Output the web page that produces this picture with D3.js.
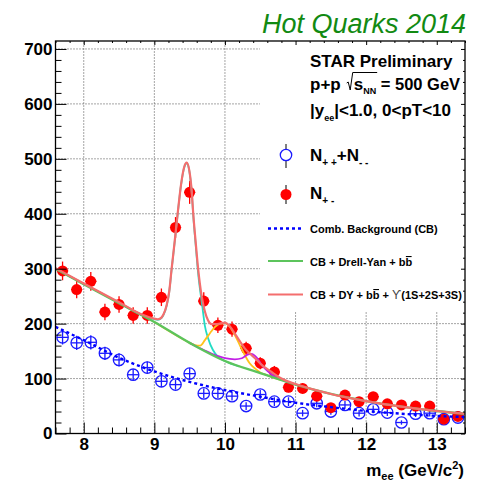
<!DOCTYPE html>
<html>
<head>
<meta charset="utf-8">
<script src="https://cdn.jsdelivr.net/npm/d3@7"></script>
<style>
  html, body { margin: 0; padding: 0; background: #fff; }
  svg { display: block; }
  text { font-family: "Liberation Sans", Arial, Helvetica, sans-serif; white-space: pre; }
</style>
</head>
<body>
<svg id="chart" width="479" height="482"></svg>
<script>
// ---- dielectron invariant-mass spectrum, bin centres in GeV/c^2 ----
const massBins = [7.7, 7.9, 8.1, 8.3, 8.5, 8.7, 8.9, 9.1, 9.3, 9.5, 9.7, 9.9, 10.1, 10.3, 10.5,
                  10.7, 10.9, 11.1, 11.3, 11.5, 11.7, 11.9, 12.1, 12.3, 12.5, 12.7, 12.9, 13.1, 13.3];
const binHalfWidth = 0.08;

// unlike-sign pairs N+-
const unlikeSign = [296, 262, 277, 221, 235, 215, 215, 248, 375, 439, 241, 197, 190, 155, 128,
                    112, 84, 82, 68, 47, 70, 58, 67, 54, 52, 50, 50, 26, 31];
const unlikeErr  = [17, 16, 17, 15, 15, 15, 15, 16, 19, 21, 16, 14, 14, 12, 11,
                    11, 9, 9, 8, 7, 8, 8, 8, 7, 7, 7, 7, 5, 6];

// like-sign pairs N++ + N--
const likeSign = [175, 165, 166, 146, 134, 107, 120, 95, 89, 109, 73, 73, 68, 50, 71,
                  58, 58, 37, 55, 40, 52, 37, 44, 38, 20, 36, 37, 26, 29];
const likeErr  = [13, 13, 13, 12, 12, 10, 11, 10, 9, 10, 9, 9, 8, 7, 8,
                  8, 8, 6, 7, 6, 7, 6, 7, 6, 4, 6, 6, 5, 5];

// combinatorial background fit
const cbMass = [7.6, 8.0, 8.5, 9.0, 9.5, 10.0, 10.5, 11.0, 11.5, 12.0, 12.5, 13.0, 13.4];
const cbFit  = [194, 170, 138, 113, 94, 79, 67, 56, 48, 41, 36, 32, 30];

// CB + Drell-Yan + bb
const dyMass = [7.6, 8.0, 8.5, 9.0, 9.5, 10.0, 10.5, 11.0, 11.5, 12.0, 12.5, 13.0, 13.4];
const dyFit  = [300, 272, 237, 203, 165, 132, 110, 89, 72, 59, 49, 41, 36];

// CB + DY + bb + Upsilon(1S)
const y1sMass = [7.6, 8.0, 8.5, 8.8, 9.0, 9.05, 9.1, 9.13, 9.175, 9.21, 9.245, 9.29, 9.33, 9.38,
                 9.425, 9.458, 9.495, 9.53, 9.551, 9.585, 9.62, 9.68, 9.716, 9.76, 9.83, 9.9, 10.0, 10.2];
const y1sFit  = [300, 272, 238, 217, 208, 207, 210, 216, 233, 257, 299, 351, 399, 454,
                 485, 492, 478, 438, 397, 344, 292, 231, 196, 174, 152, 140, 132, 122];

// CB + DY + bb + Upsilon(2S)
const y2sMass = [9.0, 9.4, 9.5, 9.575, 9.65, 9.716, 9.79, 9.86, 9.93, 10.0, 10.07, 10.14,
                 10.21, 10.28, 10.35, 10.43, 10.5, 10.6, 10.7, 10.8];
const y2sFit  = [203, 172, 165, 161, 160, 170, 183, 194, 200, 201, 194, 179,
                 161, 143, 128, 118, 111, 106, 101, 97];

// CB + DY + bb + Upsilon(3S)
const y3sMass = [9.5, 9.6, 9.7, 9.8, 9.9, 10.0, 10.14, 10.24, 10.33, 10.375, 10.45, 10.52,
                 10.6, 10.7, 10.8, 10.9];
const y3sFit  = [165, 158, 152, 146, 141, 137, 135, 137, 144, 145, 138, 125,
                 114, 104, 98, 93];

// CB + DY + bb + Upsilon(1S+2S+3S)
const totMass = [7.6, 8.0, 8.5, 8.8, 9.0, 9.05, 9.1, 9.13, 9.175, 9.21, 9.245, 9.29, 9.33, 9.38,
                 9.425, 9.458, 9.495, 9.53, 9.551, 9.585, 9.62, 9.67, 9.716, 9.76, 9.81, 9.86,
                 9.93, 10.0, 10.07, 10.14, 10.21, 10.28, 10.375, 10.45, 10.52, 10.66, 10.8,
                 11.0, 11.5, 12.0, 12.5, 13.0, 13.4];
const totFit  = [301, 273, 239, 218, 209, 208, 211, 217, 234, 258, 300, 352, 400, 455,
                 486, 493, 479, 440, 400, 349, 300, 250, 222, 206, 199, 199,
                 200, 202, 195, 182, 168, 155, 143, 134, 125, 112, 100,
                 90, 72, 59, 49, 41, 36];

// axis ticks
const xMajor = [8, 9, 10, 11, 12, 13];
const yMajor = [0, 100, 200, 300, 400, 500, 600, 700];

// ---- layout ----
const svg = d3.select("#chart");
const frame = { left: 55.5, right: 465, top: 41, bottom: 433.5 };

const x = d3.scaleLinear().domain([7.6, 13.4]).range([frame.left, frame.right]);
const y = d3.scaleLinear().domain([0, 714.5]).range([frame.bottom, frame.top]);

const xMinor = d3.range(7.6, 13.401, 0.2).map(v => +v.toFixed(1)).filter(v => !Number.isInteger(v));
const yMinor = d3.range(0, 714, 20).filter(v => v % 100 !== 0);

// title
svg.append("text")
  .attr("x", 262).attr("y", 33)
  .attr("font-size", 27).attr("font-style", "italic")
  .attr("fill", "#128a12")
  .text("Hot Quarks 2014");

// grid
const grid = svg.append("g").attr("stroke", "#000").attr("stroke-width", 1)
  .attr("stroke-dasharray", "1,2").attr("opacity", 0.7);
grid.selectAll("line.v").data(xMajor).join("line")
  .attr("x1", d => x(d)).attr("x2", d => x(d))
  .attr("y1", frame.bottom).attr("y2", frame.top);
grid.selectAll("line.h").data(yMajor.filter(v => v > 0)).join("line")
  .attr("x1", frame.left).attr("x2", frame.right)
  .attr("y1", d => y(d)).attr("y2", d => y(d));

// legend panel (opaque)
svg.append("rect").attr("x", 260).attr("y", frame.top + 1)
  .attr("width", frame.right - 260).attr("height", 311 - frame.top - 1)
  .attr("fill", "#fff");

// ---- data points ----
const pts = svg.append("g");
function drawPoints(vals, errs, color, filled) {
  const g = pts.append("g");
  const rows = massBins.map((m, i) => ({ m, v: vals[i], e: errs[i] }));
  g.selectAll("line.ey").data(rows).join("line")
    .attr("x1", d => x(d.m)).attr("x2", d => x(d.m))
    .attr("y1", d => y(d.v - d.e)).attr("y2", d => y(d.v + d.e))
    .attr("stroke", color).attr("stroke-width", 1.3);
  g.selectAll("line.ex").data(rows).join("line")
    .attr("x1", d => x(d.m - binHalfWidth)).attr("x2", d => x(d.m + binHalfWidth))
    .attr("y1", d => y(d.v)).attr("y2", d => y(d.v))
    .attr("stroke", color).attr("stroke-width", 1.3);
  g.selectAll("circle").data(rows).join("circle")
    .attr("cx", d => x(d.m)).attr("cy", d => y(d.v))
    .attr("r", filled ? 5.5 : 5.7)
    .attr("fill", filled ? color : "#fff").attr("fill-opacity", filled ? 1 : 0)
    .attr("stroke", color).attr("stroke-width", filled ? 0 : 1.3);
}
drawPoints(likeSign, likeErr, "#1a1aff", false);
drawPoints(unlikeSign, unlikeErr, "#ff0000", true);

// ---- fit curves ----
const line = d3.line().x(d => x(d[0])).y(d => y(d[1])).curve(d3.curveMonotoneX);
const curves = svg.append("g").attr("fill", "none").attr("stroke-linejoin", "round");
function drawCurve(ms, vs, color, width, dash) {
  curves.append("path")
    .attr("d", line(ms.map((m, i) => [m, vs[i]])))
    .attr("stroke", color).attr("stroke-width", width)
    .attr("stroke-dasharray", dash || null);
}
drawCurve(cbMass, cbFit, "#0000ff", 2.4, "3,3");
drawCurve(y1sMass, y1sFit, "#22dcc4", 1.8);
drawCurve(y2sMass, y2sFit, "#ffc21a", 1.8);
drawCurve(y3sMass, y3sFit, "#c21ee6", 1.8);
drawCurve(dyMass, dyFit, "#5cc45c", 2.4);
drawCurve(totMass, totFit, "#f46e6e", 2.2);

// ---- axes ----
function styleAxis(g) {
  g.select(".domain").remove();
  g.selectAll(".tick line").attr("stroke", "#000").attr("stroke-width", 1);
  g.selectAll(".tick text").attr("font-size", 17).attr("font-weight", "bold")
    .attr("fill", "#000").attr("font-family", "Liberation Sans, Arial, sans-serif");
}
svg.append("g").attr("transform", `translate(0,${frame.bottom})`)
  .call(d3.axisBottom(x).tickValues(xMajor).tickSizeInner(-11).tickSizeOuter(0)
    .tickPadding(4).tickFormat(d3.format("d"))).call(styleAxis);
svg.append("g").attr("transform", `translate(0,${frame.bottom})`)
  .call(d3.axisBottom(x).tickValues(xMinor).tickSizeInner(-6).tickSizeOuter(0)
    .tickFormat("")).call(styleAxis);
svg.append("g").attr("transform", `translate(${frame.left},0)`)
  .call(d3.axisLeft(y).tickValues(yMajor).tickSizeInner(-11).tickSizeOuter(0)
    .tickPadding(3).tickFormat(d3.format("d"))).call(styleAxis);
svg.append("g").attr("transform", `translate(${frame.left},0)`)
  .call(d3.axisLeft(y).tickValues(yMinor).tickSizeInner(-6).tickSizeOuter(0)
    .tickFormat("")).call(styleAxis);
svg.append("g").attr("transform", `translate(0,${frame.top})`)
  .call(d3.axisTop(x).tickValues(xMajor).tickSizeInner(-4).tickSizeOuter(0)
    .tickFormat("")).call(styleAxis);
svg.append("g").attr("transform", `translate(0,${frame.top})`)
  .call(d3.axisTop(x).tickValues(xMinor).tickSizeInner(-2).tickSizeOuter(0)
    .tickFormat("")).call(styleAxis);
svg.append("g").attr("transform", `translate(${frame.right},0)`)
  .call(d3.axisRight(y).tickValues(yMajor).tickSizeInner(-4).tickSizeOuter(0)
    .tickFormat("")).call(styleAxis);
svg.append("g").attr("transform", `translate(${frame.right},0)`)
  .call(d3.axisRight(y).tickValues(yMinor).tickSizeInner(-2).tickSizeOuter(0)
    .tickFormat("")).call(styleAxis);

svg.append("rect")
  .attr("x", frame.left).attr("y", frame.top)
  .attr("width", frame.right - frame.left).attr("height", frame.bottom - frame.top)
  .attr("fill", "none").attr("stroke", "#000").attr("stroke-width", 1.3);

// ---- rich text helper: runs laid out one after another ----
function richText(parent, x0, y0, runs, anchor) {
  const g = parent.append("g");
  let cx = 0;
  const placed = [];
  runs.forEach(r => {
    const start = cx + (r.pad || 0);
    const t = g.append("text")
      .attr("x", start).attr("y", r.dy || 0)
      .attr("font-size", r.size)
      .attr("font-weight", r.weight || "bold")
      .attr("fill", r.fill || "#000")
      .text(r.t);
    if (r.family) t.attr("font-family", r.family);
    const w = t.node().getComputedTextLength();
    placed.push({ r, start, end: start + w });
    if (r.over) {
      g.append("line").attr("x1", start + 0.5).attr("x2", start + w - 0.5)
        .attr("y1", (r.dy || 0) - r.size * 0.86).attr("y2", (r.dy || 0) - r.size * 0.86)
        .attr("stroke", r.fill || "#000").attr("stroke-width", 1.1);
    }
    cx = start + w;
  });
  const root = placed.filter(p => p.r.root);
  if (root.length) {
    const s = root[0].start, e = d3.max(root, p => p.end);
    g.append("path")
      .attr("d", `M${s - 7},-7 L${s - 5.5},-8 L${s - 3.5},0 L${s - 1},-17.5 L${e + 1},-17.5`)
      .attr("fill", "none").attr("stroke", "#000").attr("stroke-width", 1);
  }
  const sx = anchor === "end" ? x0 - cx : x0;
  g.attr("transform", `translate(${sx},${y0})`);
  return g;
}

// axis title
richText(svg, 464, 476, [
  { t: "m", size: 17 },
  { t: "ee", size: 11, dy: 4 },
  { t: " (GeV/c", size: 17 },
  { t: "2", size: 11, dy: -7 },
  { t: ")", size: 17 }
], "end");

// ---- legend ----
const leg = svg.append("g");
const tx = 310;
richText(leg, tx, 67, [{ t: "STAR Preliminary", size: 17 }]);
richText(leg, tx, 90, [
  { t: "p+p", size: 17 },
  { t: "s", size: 17, pad: 13, root: true },
  { t: "NN", size: 9, dy: 4, root: true },
  { t: " = 500 GeV", size: 16.5 }
]);
richText(leg, tx, 116, [
  { t: "|y", size: 17 },
  { t: "ee", size: 9, dy: 5 },
  { t: "|<1.0, 0<pT<10", size: 17 }
]);

// legend markers
leg.append("line").attr("x1", 286).attr("x2", 286).attr("y1", 144).attr("y2", 168)
  .attr("stroke", "#000").attr("stroke-width", 1);
leg.append("circle").attr("cx", 286).attr("cy", 155).attr("r", 5.7)
  .attr("fill", "#fff").attr("stroke", "#1a1aff").attr("stroke-width", 1.3);
richText(leg, tx, 161, [
  { t: "N", size: 17 },
  { t: "+ +", size: 10, dy: 5 },
  { t: "+N", size: 17 },
  { t: "- -", size: 10, dy: 5 }
]);

leg.append("line").attr("x1", 286).attr("x2", 286).attr("y1", 185).attr("y2", 204)
  .attr("stroke", "#000").attr("stroke-width", 1);
leg.append("circle").attr("cx", 286).attr("cy", 194.5).attr("r", 5.5)
  .attr("fill", "#ff0000");
richText(leg, tx, 199, [
  { t: "N", size: 17 },
  { t: "+ -", size: 10, dy: 5 }
]);

leg.append("line").attr("x1", 268).attr("x2", 303).attr("y1", 228.5).attr("y2", 228.5)
  .attr("stroke", "#0000ff").attr("stroke-width", 2.4).attr("stroke-dasharray", "3,3");
richText(leg, tx, 232.5, [{ t: "Comb. Background (CB)", size: 11 }]);

leg.append("line").attr("x1", 268).attr("x2", 303).attr("y1", 261).attr("y2", 261)
  .attr("stroke", "#5cc45c").attr("stroke-width", 2.2);
richText(leg, tx, 266, [
  { t: "CB + Drell-Yan + b", size: 11 },
  { t: "b", size: 11, over: true }
]);

leg.append("line").attr("x1", 268).attr("x2", 303).attr("y1", 294.5).attr("y2", 294.5)
  .attr("stroke", "#f46e6e").attr("stroke-width", 2.2);
richText(leg, tx, 299, [
  { t: "CB + DY + b", size: 11 },
  { t: "b", size: 11, over: true },
  { t: " + ", size: 11 },
  { t: "\u03D2", size: 12, weight: "normal", family: "DejaVu Serif, serif", fill: "#444" },
  { t: "(1S+2S+3S)", size: 11 }
]);
</script>
</body>
</html>
